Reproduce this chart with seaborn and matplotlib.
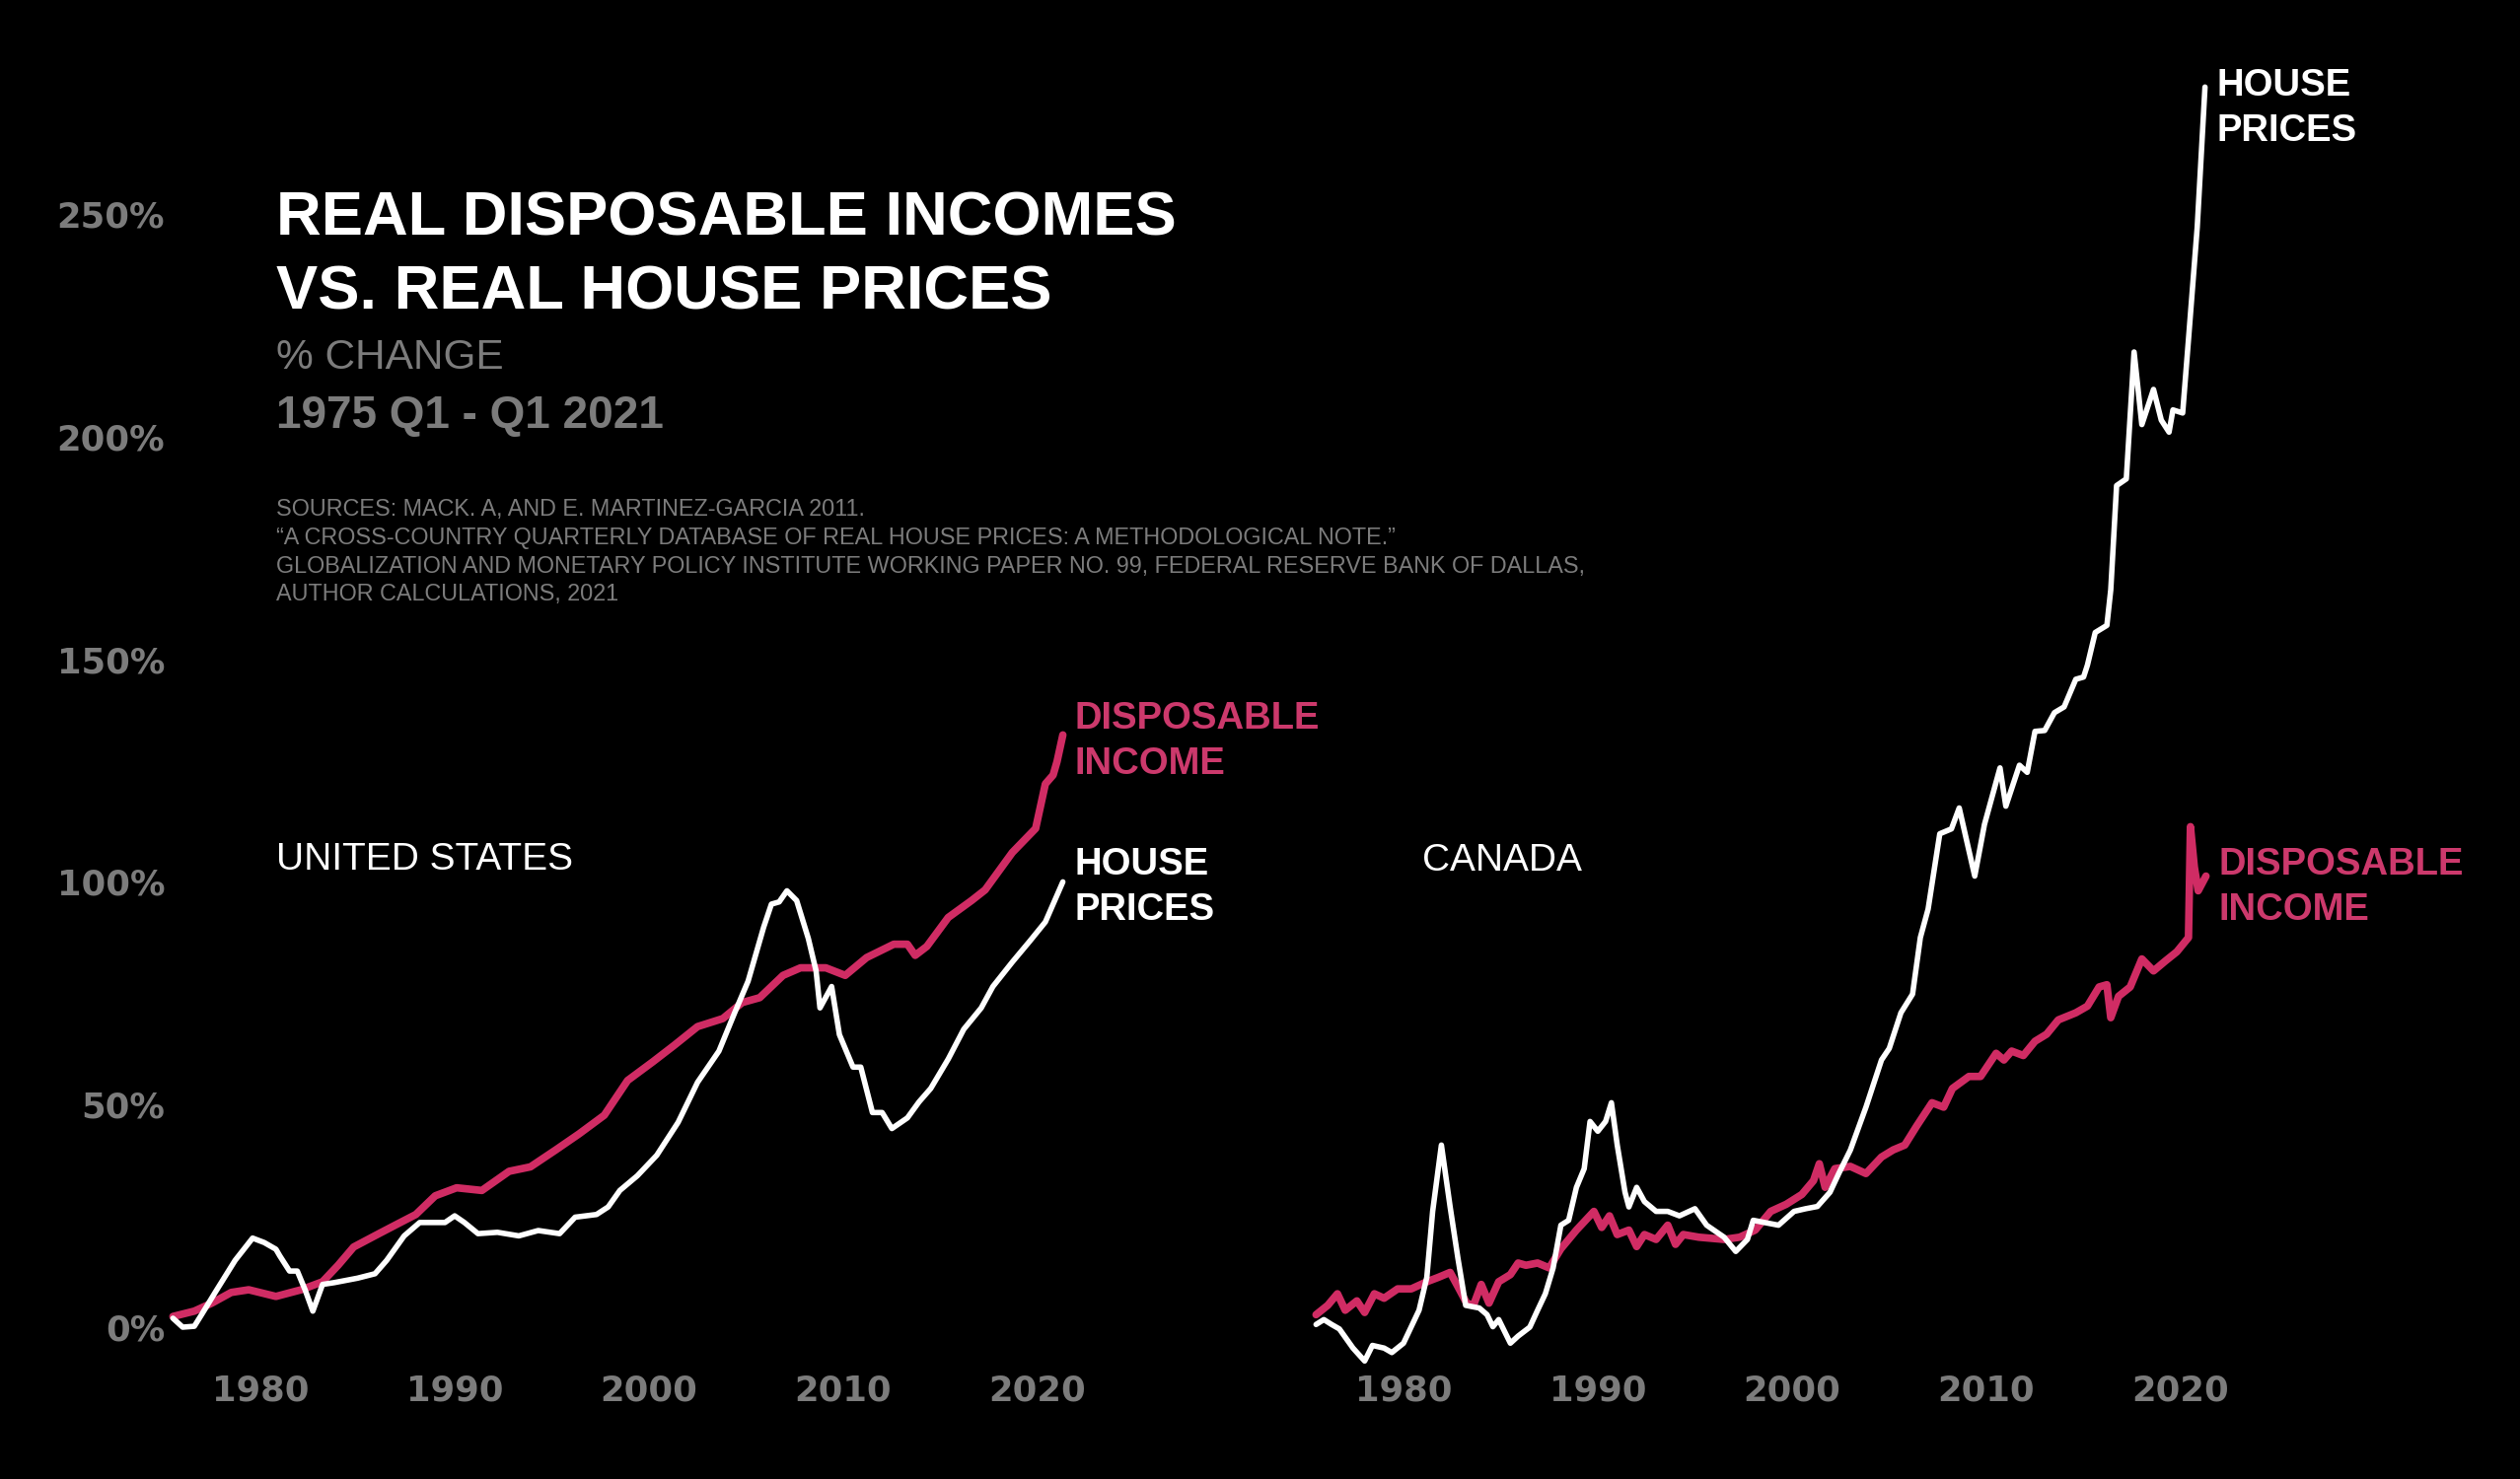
import pandas as pd
import matplotlib.pyplot as plt
import seaborn as sns

# values (year, % change since 1975 Q1)
us_house_year = [1975.5, 1976.0, 1976.6, 1977.0, 1977.7, 1978.7, 1979.6, 1980.2, 1980.8, 1981.0, 1981.5,
                 1981.9, 1982.3, 1982.7, 1983.2, 1983.8, 1985.0, 1985.9, 1986.5, 1987.4, 1988.2, 1989.5,
                 1990.0, 1990.5, 1991.2, 1992.2, 1993.3, 1994.3, 1995.4, 1996.2, 1997.3, 1997.9, 1998.5,
                 1999.4, 2000.4, 2001.5, 2002.5, 2003.6, 2004.4, 2005.1, 2005.9, 2006.3, 2006.7, 2007.1,
                 2007.6, 2008.2, 2008.6, 2008.8, 2009.4, 2009.8, 2010.5, 2010.9, 2011.5, 2012.0, 2012.5,
                 2013.3, 2013.9, 2014.5, 2015.4, 2016.2, 2017.1, 2017.7, 2018.7, 2019.6, 2020.4, 2020.8,
                 2021.3]
us_house_val = [2.0, 0.0, 0.2, 3.0, 8.0, 15.0, 20.0, 19.0, 17.5, 16.0, 12.6, 12.6, 8.4, 3.6, 9.6, 10.0,
                11.0, 12.0, 15.0, 20.5, 23.5, 23.5, 25.0, 23.5, 21.0, 21.3, 20.5, 21.7, 21.0, 24.7, 25.3,
                27.0, 30.7, 34.0, 38.6, 46.0, 55.0, 62.0, 70.5, 77.7, 89.8, 95.0, 95.5, 98.0, 95.8, 87.3,
                80.0, 71.7, 76.5, 65.7, 58.4, 58.4, 48.2, 48.2, 44.6, 47.0, 50.6, 53.6, 60.2, 66.9, 71.7,
                76.5, 82.0, 86.7, 91.0, 95.0, 100.0]

us_inc_year = [1975.5, 1976.6, 1977.5, 1978.5, 1979.4, 1980.8, 1982.1, 1983.2, 1984.0, 1984.8, 1986.1,
               1987.2, 1988.0, 1989.0, 1990.1, 1991.4, 1992.8, 1993.9, 1995.2, 1996.4, 1997.7, 1998.9,
               2000.2, 2001.3, 2002.5, 2003.8, 2004.8, 2005.7, 2006.9, 2007.8, 2009.1, 2010.1, 2011.2,
               2012.6, 2013.3, 2013.7, 2014.3, 2015.4, 2016.6, 2017.3, 2018.7, 2019.9, 2020.4, 2020.8,
               2021.0, 2021.3]
us_inc_val = [2.4, 3.6, 5.4, 7.8, 8.4, 6.9, 8.4, 10.2, 13.9, 18.0, 21.0, 23.5, 25.3, 29.5, 31.3, 30.7,
              35.0, 36.0, 39.8, 43.4, 47.6, 55.4, 59.6, 63.3, 67.5, 69.3, 72.9, 74.0, 79.0, 80.7, 80.7,
              79.0, 83.0, 86.0, 86.0, 83.5, 85.5, 92.0, 95.8, 98.2, 106.6, 112.0, 122.0, 124.0, 127.0,
              133.0]

ca_house_year = [1975.5, 1975.9, 1976.3, 1976.7, 1977.4, 1978.0, 1978.4, 1979.0, 1979.4, 1980.0, 1980.8,
                 1981.2, 1981.5, 1981.95, 1982.4, 1982.8, 1983.2, 1983.9, 1984.3, 1984.6, 1984.9, 1985.5,
                 1985.9, 1986.5, 1986.9, 1987.3, 1987.7, 1988.1, 1988.5, 1988.9, 1989.3, 1989.6, 1990.0,
                 1990.4, 1990.7, 1991.0, 1991.4, 1991.6, 1992.0, 1992.4, 1993.0, 1993.6, 1994.2, 1995.0,
                 1995.6, 1996.5, 1997.1, 1997.7, 1998.0, 1998.7, 1999.3, 2000.1, 2000.7, 2001.3, 2001.95,
                 2002.4, 2003.0, 2003.8, 2004.6, 2005.0, 2005.6, 2006.2, 2006.6, 2007.0, 2007.6, 2008.2,
                 2008.6, 2009.4, 2009.9, 2010.7, 2011.0, 2011.7, 2012.1, 2012.5, 2013.0, 2013.5, 2014.0,
                 2014.6, 2015.0, 2015.2, 2015.6, 2016.2, 2016.4, 2016.7, 2017.2, 2017.6, 2018.0, 2018.6,
                 2019.0, 2019.4, 2019.6, 2020.1, 2020.4, 2020.85, 2021.25]
ca_house_val = [0.6, 1.7, 0.6, -0.4, -4.7, -7.6, -4.1, -4.7, -5.7, -3.6, 3.8, 11.2, 26.0, 40.9, 27.0,
                15.5, 4.9, 4.3, 2.8, 0.1, 1.7, -3.6, -2.0, 0.0, 3.8, 7.5, 13.3, 22.9, 24.0, 31.4, 35.6,
                46.2, 44.0, 46.2, 50.4, 40.9, 30.3, 27.0, 31.4, 28.2, 26.0, 26.0, 25.0, 26.6, 22.9, 20.2,
                17.0, 19.7, 24.0, 23.4, 22.9, 26.0, 26.6, 27.1, 30.3, 34.5, 39.8, 49.4, 60.0, 62.6, 70.6,
                74.8, 87.5, 93.9, 110.8, 111.9, 116.6, 101.3, 112.9, 125.6, 117.0, 126.2, 124.6, 133.8,
                134.0, 138.0, 139.3, 145.5, 146.0, 148.7, 156.0, 157.6, 165.6, 189.0, 190.5, 219.0,
                202.7, 210.6, 203.7, 201.0, 206.0, 205.3, 221.8, 247.0, 278.5]

ca_inc_year = [1975.5, 1976.1, 1976.6, 1977.0, 1977.6, 1978.0, 1978.5, 1979.0, 1979.7, 1980.4, 1981.2,
               1981.8, 1982.4, 1982.8, 1983.25, 1983.6, 1984.0, 1984.4, 1984.9, 1985.5, 1985.9, 1986.3,
               1986.9, 1987.5, 1988.1, 1988.9, 1989.8, 1990.2, 1990.6, 1991.0, 1991.6, 1992.0, 1992.4,
               1993.0, 1993.6, 1994.0, 1994.4, 1995.2, 1996.5, 1997.3, 1998.1, 1998.9, 1999.7, 2000.5,
               2001.1, 2001.4, 2001.7, 2002.2, 2003.0, 2003.8, 2004.6, 2005.2, 2005.8, 2006.4, 2007.2,
               2007.8, 2008.25, 2009.1, 2009.7, 2010.5, 2010.9, 2011.3, 2011.9, 2012.5, 2013.1, 2013.7,
               2014.6, 2015.2, 2015.8, 2016.2, 2016.4, 2016.8, 2017.4, 2018.0, 2018.6, 2019.2, 2019.8,
               2020.4, 2020.5, 2020.7, 2020.9, 2021.3]
ca_inc_val = [2.8, 4.9, 7.5, 3.8, 5.9, 3.3, 7.5, 6.5, 8.6, 8.6, 10.2, 11.2, 12.3, 9.1, 5.4, 4.9, 9.6,
              5.4, 10.2, 11.8, 14.4, 13.9, 14.4, 13.3, 17.6, 21.8, 26.0, 22.4, 25.0, 20.8, 21.8, 18.1,
              20.8, 19.7, 22.9, 18.6, 20.8, 20.2, 19.7, 20.2, 21.8, 26.0, 27.6, 29.8, 32.9, 36.7, 31.4,
              35.6, 36.1, 34.5, 38.2, 39.8, 40.9, 45.1, 50.4, 49.4, 53.6, 56.3, 56.3, 61.5, 60.0, 62.0,
              61.0, 64.2, 65.8, 69.0, 70.6, 72.1, 76.4, 76.9, 69.5, 74.3, 76.4, 82.7, 80.0, 82.2, 84.3,
              87.5, 112.4, 103.4, 98.0, 101.3]

y_ticks = [0, 50, 100, 150, 200, 250]
y_ticklabels = ['0%', '50%', '100%', '150%', '200%', '250%']
x_ticks = [1980, 1990, 2000, 2010, 2020]

source_lines = [
    'SOURCES: MACK. A, AND E. MARTINEZ-GARCIA 2011.',
    '\u201cA CROSS-COUNTRY QUARTERLY DATABASE OF REAL HOUSE PRICES: A METHODOLOGICAL NOTE.\u201d',
    'GLOBALIZATION AND MONETARY POLICY INSTITUTE WORKING PAPER NO. 99, FEDERAL RESERVE BANK OF DALLAS,',
    'AUTHOR CALCULATIONS, 2021',
]

PINK = '#dc2f6a'
PINK_TXT = '#cc396c'
GREY = '#7c7c7c'
TICK_FONT = ['DejaVu Sans']

sns.set_theme(style='dark')
plt.rcParams['font.family'] = ['Liberation Sans', 'DejaVu Sans']
plt.rcParams['figure.facecolor'] = 'black'
plt.rcParams['axes.facecolor'] = 'black'

W, H = 2555, 1500
fig = plt.figure(figsize=(W / 100, H / 100), dpi=100)

def px(x, y):
    return x / W, 1 - y / H

# axes placed so that years / percents land where the reference has them
ax_top, ax_bot = 50, 1380
ylo = (1346 - ax_bot) / 4.516
yhi = (1346 - ax_top) / 4.516

def make_ax(left, right, x1980):
    ax = fig.add_axes([left / W, 1 - ax_bot / H, (right - left) / W, (ax_bot - ax_top) / H])
    ax.set_xlim(1980 + (left - x1980) / 19.7, 1980 + (right - x1980) / 19.7)
    ax.set_ylim(ylo, yhi)
    ax.set_facecolor('black')
    ax.grid(False)
    for s in ax.spines.values():
        s.set_visible(False)
    ax.set_xticks(x_ticks)
    ax.set_xticklabels([str(t) for t in x_ticks])
    ax.tick_params(axis='x', length=0, pad=10, labelsize=25.5, labelcolor=GREY)
    for lab in ax.get_xticklabels():
        lab.set_fontweight('bold')
        lab.set_family(TICK_FONT)
    return ax

ax_us = make_ax(170, 1100, 264)
ax_ca = make_ax(1330, 2300, 1423)

ax_us.set_yticks(y_ticks)
ax_us.set_yticklabels(y_ticklabels)
ax_us.tick_params(axis='y', length=0, pad=2, labelsize=25.5, labelcolor=GREY)
for lab in ax_us.get_yticklabels():
    lab.set_fontweight('bold')
    lab.set_family(TICK_FONT)
ax_ca.set_yticks([])

us_inc = pd.DataFrame({'year': us_inc_year, 'val': us_inc_val})
us_house = pd.DataFrame({'year': us_house_year, 'val': us_house_val})
ca_inc = pd.DataFrame({'year': ca_inc_year, 'val': ca_inc_val})
ca_house = pd.DataFrame({'year': ca_house_year, 'val': ca_house_val})

for ax, inc, house in [(ax_us, us_inc, us_house), (ax_ca, ca_inc, ca_house)]:
    sns.lineplot(data=inc, x='year', y='val', ax=ax, color=PINK, linewidth=5.5, alpha=0.95,
                 solid_joinstyle='round', clip_on=False)
    sns.lineplot(data=house, x='year', y='val', ax=ax, color='white', linewidth=4,
                 solid_joinstyle='round', clip_on=False)
    ax.set_xlabel('')
    ax.set_ylabel('')

# titles and notes
def txt(x, y, s, **kw):
    fig.text(*px(x, y), s, va='center', ha='left', **kw)

txt(280, 222, 'REAL DISPOSABLE INCOMES', color='white', fontsize=45.5, fontweight='bold')
txt(280, 297, 'VS. REAL HOUSE PRICES', color='white', fontsize=45.5, fontweight='bold')
txt(280, 363, '% CHANGE', color=GREY, fontsize=30.5)
txt(280, 422, '1975 Q1 - Q1 2021', color=GREY, fontsize=33, fontweight='bold')
for i, line in enumerate(source_lines):
    txt(280, 517 + i * 28.5, line, color=GREY, fontsize=16.8)

txt(280, 872, 'UNITED STATES', color='white', fontsize=28)
txt(1442, 873, 'CANADA', color='white', fontsize=28)

txt(1089, 729, 'DISPOSABLE', color=PINK_TXT, fontsize=27.5, fontweight='bold')
txt(1089, 775, 'INCOME', color=PINK_TXT, fontsize=27.5, fontweight='bold')
txt(1089, 877, 'HOUSE', color='white', fontsize=27.5, fontweight='bold')
txt(1089, 923, 'PRICES', color='white', fontsize=27.5, fontweight='bold')
txt(2247, 87, 'HOUSE', color='white', fontsize=27.5, fontweight='bold')
txt(2247, 133, 'PRICES', color='white', fontsize=27.5, fontweight='bold')
txt(2249, 877, 'DISPOSABLE', color=PINK_TXT, fontsize=27.5, fontweight='bold')
txt(2249, 923, 'INCOME', color=PINK_TXT, fontsize=27.5, fontweight='bold')

fig.savefig('out.png', dpi=100, facecolor='black')
